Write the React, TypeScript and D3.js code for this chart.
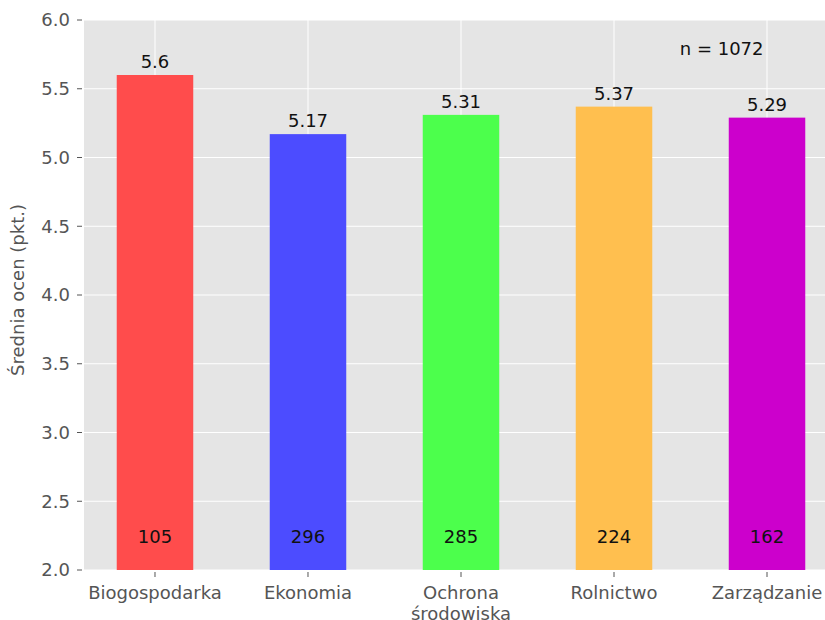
import React, { useEffect, useRef } from 'react';
import * as d3 from 'd3';

// chart data
const categories = ['Biogospodarka', 'Ekonomia', 'Ochrona\nśrodowiska', 'Rolnictwo', 'Zarządzanie'];
const means = [5.6, 5.17, 5.31, 5.37, 5.29];
const counts = [105, 296, 285, 224, 162];
const barColors = ['#ff4c4c', '#4c4cff', '#4cff4c', '#ffbf4f', '#cc00cc'];
const yTicks = [2.0, 2.5, 3.0, 3.5, 4.0, 4.5, 5.0, 5.5, 6.0];
const totalLabel = 'n = 1072';

const W = 825;
const H = 620;

const App: React.FC = () => {
    const svgRef = useRef<SVGSVGElement>(null);

    useEffect(() => {
        if (!svgRef.current) return;
        const svg = d3.select(svgRef.current);
        svg.selectAll('*').remove();

        const font = 'DejaVu Sans, sans-serif';
        const fs = '18px';
        const left = 84, top = 20, bottom = 570;

        // x in bar-index units, slightly clipped on the right like the original
        const x = d3.scaleLinear().domain([-0.464, 4.464]).range([left, 838]);
        const y = d3.scaleLinear().domain([2, 6]).range([bottom, top]);
        const barW = x(0.5) - x(0);

        // panel background
        svg.append('rect')
            .attr('x', left).attr('y', top)
            .attr('width', x(4.464) - left).attr('height', bottom - top)
            .attr('fill', '#e5e5e5');

        // grid
        svg.selectAll('.hgrid').data(yTicks).enter().append('line')
            .attr('x1', left).attr('x2', x(4.464))
            .attr('y1', d => y(d)).attr('y2', d => y(d))
            .attr('stroke', '#fff').attr('stroke-width', 1);
        svg.selectAll('.vgrid').data(categories).enter().append('line')
            .attr('x1', (_, i) => x(i)).attr('x2', (_, i) => x(i))
            .attr('y1', top).attr('y2', bottom)
            .attr('stroke', '#fff').attr('stroke-width', 1);

        // bars
        svg.selectAll('.bar').data(means).enter().append('rect')
            .attr('x', (_, i) => x(i) - barW / 2)
            .attr('y', d => y(d))
            .attr('width', barW)
            .attr('height', d => bottom - y(d))
            .attr('fill', (_, i) => barColors[i]);

        // mean labels above bars
        svg.selectAll('.mlabel').data(means).enter().append('text')
            .attr('x', (_, i) => x(i))
            .attr('y', d => y(d) - 7)
            .attr('text-anchor', 'middle')
            .style('font-family', font).style('font-size', fs)
            .attr('fill', '#111')
            .text(d => String(d));

        // counts near the base
        svg.selectAll('.clabel').data(counts).enter().append('text')
            .attr('x', (_, i) => x(i))
            .attr('y', y(2.2))
            .attr('text-anchor', 'middle')
            .style('font-family', font).style('font-size', fs)
            .attr('fill', '#111')
            .text(d => String(d));

        // n label
        svg.append('text')
            .attr('x', x(3.43)).attr('y', y(5.745))
            .style('font-family', font).style('font-size', fs)
            .attr('fill', '#111')
            .text(totalLabel);

        // y axis ticks and labels
        const yt = svg.selectAll('.ytick').data(yTicks).enter().append('g')
            .attr('transform', d => `translate(0,${y(d)})`);
        yt.append('line').attr('x1', 77).attr('x2', 82).attr('stroke', '#555').attr('stroke-width', 1);
        yt.append('text')
            .attr('x', 70).attr('dy', '0.36em')
            .attr('text-anchor', 'end')
            .style('font-family', font).style('font-size', fs)
            .attr('fill', '#555')
            .text(d => d.toFixed(1));

        // x axis ticks and labels
        const xt = svg.selectAll('.xtick').data(categories).enter().append('g')
            .attr('transform', (_, i) => `translate(${x(i)},0)`);
        xt.append('line').attr('y1', 572).attr('y2', 577).attr('stroke', '#555').attr('stroke-width', 1);
        const xl = xt.append('text')
            .attr('text-anchor', 'middle')
            .style('font-family', font).style('font-size', fs)
            .attr('fill', '#555');
        xl.selectAll('tspan').data(d => d.split('\n')).enter().append('tspan')
            .attr('x', 0)
            .attr('y', (_, j) => 599 + j * 21)
            .text(d => d);

        // y axis title
        svg.append('text')
            .attr('transform', `translate(24,290) rotate(-90)`)
            .attr('text-anchor', 'middle')
            .style('font-family', font).style('font-size', fs)
            .attr('fill', '#555')
            .text('Średnia ocen (pkt.)');
    }, []);

    return (
        <div style={{ position: 'fixed', left: 0, top: 0, width: W, height: H, background: '#fff' }}>
            <svg ref={svgRef} width={W} height={H} style={{ display: 'block' }} />
        </div>
    );
};

export default App;
